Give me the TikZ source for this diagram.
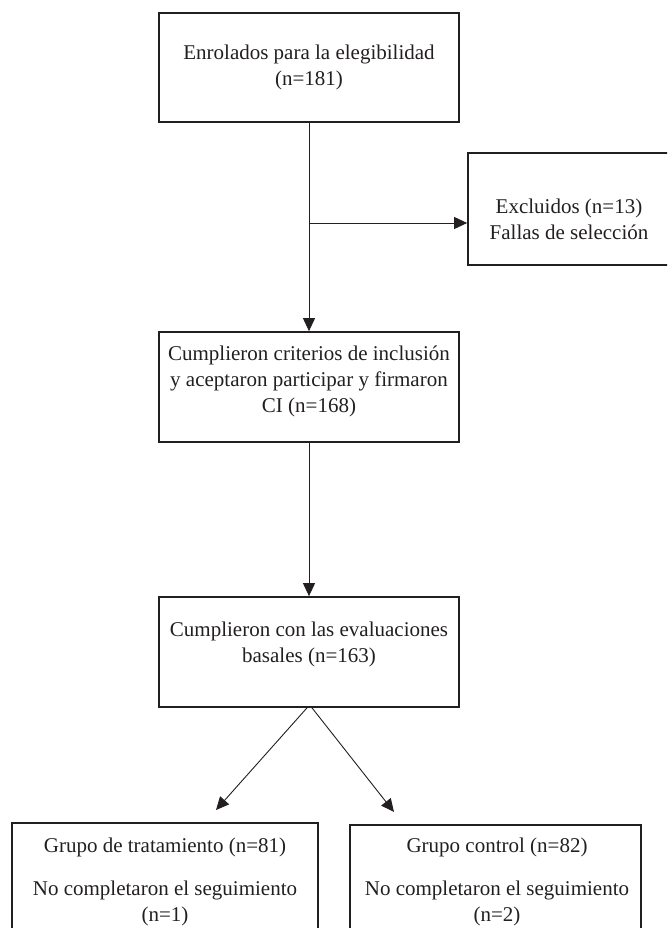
\documentclass[tikz,border=0pt]{standalone}
\usepackage{fontspec}
\setmainfont{Liberation Serif}
\usetikzlibrary{arrows.meta}
\definecolor{ink}{HTML}{231F20}
\begin{document}
\begin{tikzpicture}[x=1pt,y=-1pt,
  box/.style={draw=ink, line width=1.7pt, inner sep=0pt},
  txt/.style={text=ink, align=center, font=\fontsize{21}{26}\selectfont, inner sep=0pt},
  conn/.style={draw=ink, line width=0.9pt, -{Triangle[length=13pt,width=12pt]}}]
\useasboundingbox (0,0) rectangle (667,928);
\begin{scope}
\clip (0,0) rectangle (667,928);
% boxes
\node[box, minimum width=300pt, minimum height=109pt] (b1) at (309,67.5) {};
\node[box, minimum width=204pt, minimum height=112pt] (b2) at (570,209) {};
\node[box, minimum width=300pt, minimum height=110pt] (b3) at (309,387) {};
\node[box, minimum width=300pt, minimum height=110pt] (b4) at (309,652) {};
\node[box, minimum width=306pt, minimum height=137pt] (b5) at (165,891.5) {};
\node[box, minimum width=291pt, minimum height=135pt] (b6) at (495.5,892.5) {};
% texts
\node[txt] (t1) at (309,67.5) {Enrolados para la elegibilidad\\(n=181)};
\node[txt] (t2) at (569,219) {Excluidos (n=13)\\Fallas de selección};
\node[txt] (t3) at (309,381) {Cumplieron criterios de inclusión\\y aceptaron participar y firmaron\\CI (n=168)};
\node[txt] (t4) at (309,644.5) {Cumplieron con las evaluaciones\\basales (n=163)};
\node[txt] (t5a) at (165,847) {Grupo de tratamiento (n=81)};
\node[txt] (t5b) at (165,903) {No completaron el seguimiento\\(n=1)};
\node[txt] (t6a) at (497,847) {Grupo control (n=82)};
\node[txt] (t6b) at (497,903) {No completaron el seguimiento\\(n=2)};
% connectors
\draw[conn] (b1.south) -- (b3.north);
\coordinate (j) at (309,223);
\draw[conn] (j) -- (j -| b2.west);
\draw[conn] (b3.south) -- (b4.north);
\coordinate (e1) at (216,810);
\coordinate (e2) at (394,812);
\draw[conn] ([xshift=-2pt]b4.south) -- (e1);
\draw[conn] ([xshift=3pt]b4.south) -- (e2);
\end{scope}
\end{tikzpicture}
\end{document}
